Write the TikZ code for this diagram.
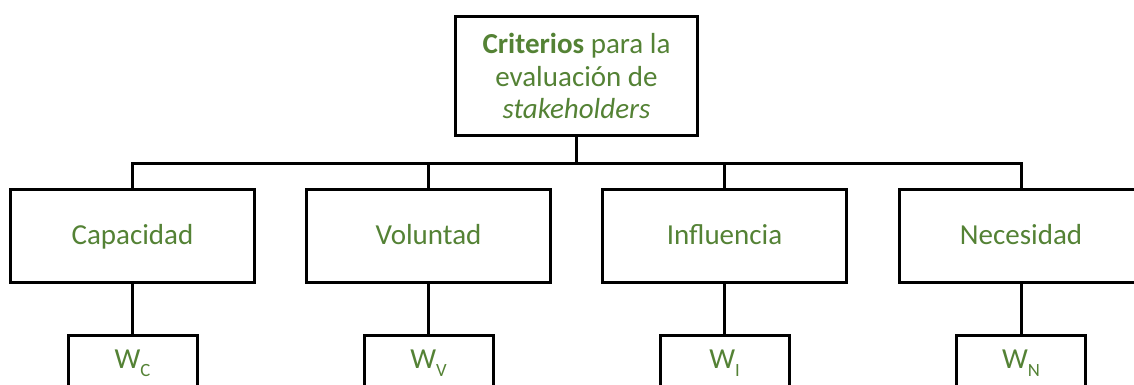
\documentclass[tikz,border=0pt]{standalone}
\usepackage{fontspec}
\setmainfont{Carlito}
\definecolor{txtgreen}{HTML}{548235}
\newcommand\Wsub[1]{W\raisebox{-6pt}{\fontsize{14}{14}\selectfont #1}}
\begin{document}
\begin{tikzpicture}[x=0.75pt,y=-0.75pt,
  box/.style={draw=black,line width=2.25pt,rectangle,inner sep=0pt,text=txtgreen,
    font=\fontsize{21.75}{24.4}\selectfont},
  critbox/.style={box,minimum width=181.5pt,minimum height=89.25pt,align=center},
  midbox/.style={box,minimum width=183pt,minimum height=69.75pt,text height=15pt,text depth=2.25pt},
  wbox/.style={box,minimum width=96.75pt,minimum height=39.75pt,text height=12pt,text depth=2.25pt},
  conn/.style={draw=black,line width=2.25pt}]
\useasboundingbox (0,0) rectangle (1134,385);
\clip (0,0) rectangle (1134,385);
\node[critbox] (top) at (576.5,76) {\textbf{Criterios} para la\\evaluación de\\\textit{stakeholders}};
\node[midbox] (cap) at (132.5,235.5) {Capacidad};
\node[midbox] (vol) at (428.5,235.5) {Voluntad};
\node[midbox] (inf) at (724.5,235.5) {Influencia};
\node[midbox] (nec) at (1021,235.5) {Necesidad};
\node[wbox] (wc) at (132.5,361.5) {\Wsub{C}};
\node[wbox] (wv) at (428.5,361.5) {\Wsub{V}};
\node[wbox] (wi) at (724.5,361.5) {\Wsub{I}};
\node[wbox] (wn) at (1021,361.5) {\Wsub{N}};
\coordinate (bus) at (0,163);
\draw[conn] (top.south) -- (top.south |- bus);
\draw[conn] (cap.north) -- (cap.north |- bus) -- (nec.north |- bus) -- (nec.north);
\draw[conn] (vol.north) -- (vol.north |- bus);
\draw[conn] (inf.north) -- (inf.north |- bus);
\draw[conn] (cap.south) -- (wc.north);
\draw[conn] (vol.south) -- (wv.north);
\draw[conn] (inf.south) -- (wi.north);
\draw[conn] (nec.south) -- (wn.north);
\end{tikzpicture}
\end{document}
